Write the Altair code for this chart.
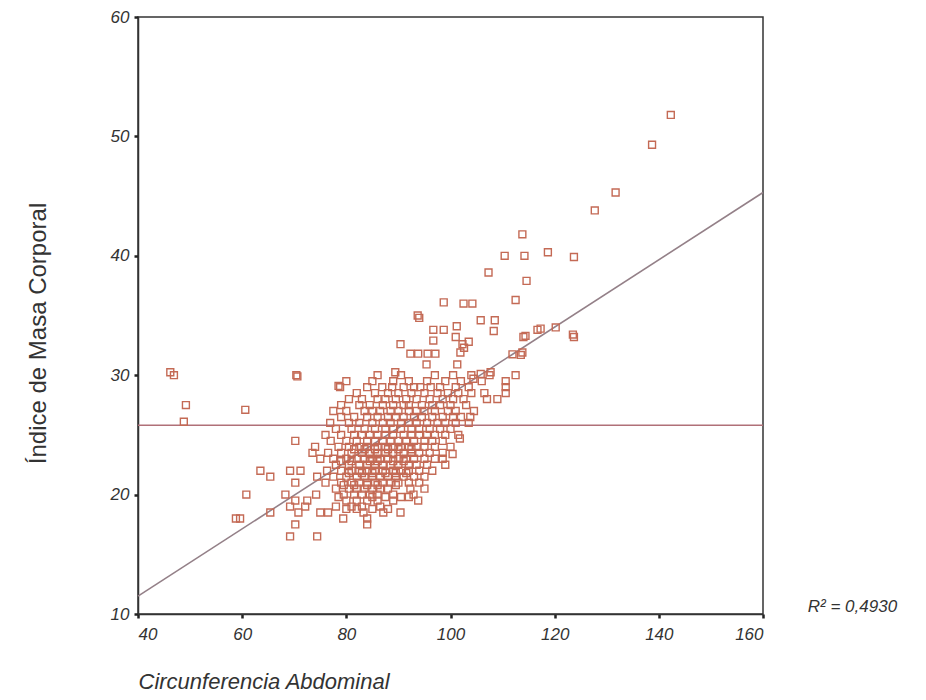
import altair as alt
import pandas as pd

# Outlying / sparse points: [Circunferencia, IMC]
sparse_points = [
    [142.3, 51.8], [138.7, 49.3], [131.7, 45.3], [127.7, 43.8], [123.7, 39.9],
    [118.7, 40.3], [114.2, 40.0], [110.4, 40.0], [113.8, 41.8], [107.3, 38.6],
    [114.6, 37.9], [112.5, 36.3], [98.7, 36.1], [102.5, 36.0], [104.2, 36.0],
    [108.5, 34.6], [120.2, 34.0], [117.3, 33.9], [123.7, 33.2], [123.5, 33.4],
    [114.0, 33.2], [93.7, 35.0], [94.0, 34.8], [105.8, 34.6], [96.7, 33.8],
    [96.7, 32.9], [90.4, 32.6], [101.2, 34.1], [98.7, 33.8], [108.3, 33.7],
    [102.3, 32.6], [102.6, 32.3], [101.0, 33.2], [103.5, 32.8], [101.9, 31.9],
    [101.3, 30.9], [111.9, 31.75], [113.8, 31.9], [114.4, 33.3], [116.7, 33.8],
    [112.5, 30.0], [113.5, 31.7], [92.3, 31.8], [93.8, 31.8], [95.6, 31.8],
    [97.1, 31.8], [95.4, 30.9], [89.4, 30.25], [46.2, 30.25], [46.9, 30.0],
    [49.2, 27.5], [48.8, 26.1], [60.6, 27.1], [70.4, 30.0], [70.6, 29.9],
    [78.5, 29.1], [101.8, 24.7], [100.4, 23.4], [103.8, 26.5], [107.7, 30.25],
    [105.8, 30.1], [104.4, 29.7], [98.5, 23.0],
]

# Dense cloud, read row by row (IMC level -> Circunferencia values)
row_300 = [86, 90.5, 97, 100.5, 104, 107.5]
row_295 = [80, 85, 89, 92, 95.5, 99, 102, 106, 110.6]
row_290 = [78.8, 84, 86.9, 88.8, 91, 93, 94.2, 96.2, 98, 101, 103.5, 110.6]
row_285 = [82, 85.5, 88, 90, 92.5, 95, 97.5, 99.5, 101.5, 104, 106.5, 110.6]
row_280 = [80.5, 83, 86, 87.5, 89.5, 91.5, 93.5, 96, 98.5, 100.5, 102.5, 107, 109]
row_275 = [79, 82.5, 84.5, 87, 89, 91, 92, 94.5, 96.5, 98, 100, 103]
row_270 = [77.5, 80, 83.5, 85, 86.5, 88.5, 90, 92, 93.5, 95, 97, 99.5, 101, 104.5]
row_265 = [79, 81.5, 84, 86, 88, 89.5, 91, 93, 94.5, 96.5, 98.5, 100.5, 102]
row_260 = [76.9, 80.5, 82.5, 85, 87, 88.5, 90.5, 92, 93.5, 95.5, 97.5, 99, 101, 103.5]
row_255 = [78, 81, 83.5, 85.5, 87.5, 89, 90.5, 92.5, 94, 96, 98, 100]
row_250 = [76, 79, 81.5, 83, 84.5, 86, 87.5, 89, 91, 92.5, 94, 95.5, 97, 99, 101.5]
row_245 = [70.2, 77, 80, 82, 84, 85.5, 87, 88.5, 90, 91.5, 93, 95, 96.5, 98.5]
row_240 = [74, 78.5, 80.5, 82.5, 84, 86, 87.5, 89, 90.5, 92, 93.5, 95, 97, 100]
row_238 = [81.5, 83.5, 85.5, 88, 90, 92.5]
row_235 = [73.5, 76.5, 79, 81, 83, 84.5, 86, 87.5, 89, 91, 92.5, 94, 96, 98.5]
row_230 = [75, 77.5, 80, 82, 83.5, 85, 86.5, 88, 90, 91.5, 93, 95, 97]
row_228 = [79, 81, 84.5, 86, 89, 91]
row_225 = [78, 80.5, 82.5, 84, 85.5, 87, 88.5, 90, 92, 93.5, 95.5, 99]
row_220 = [63.5, 69.2, 71.2, 76.3, 79, 81, 82.5, 84, 85.5, 87, 89, 90.5, 92, 94, 96.5]
row_218 = [80.5, 83, 85, 87.5, 89.5, 91.5]
row_215 = [65.4, 74.4, 77.5, 80, 82, 83.5, 85, 86.5, 88, 89.5, 91, 93, 95]
row_210 = [70.2, 76, 79, 81, 82.5, 84, 85.5, 87, 88.5, 90, 92, 94]
row_208 = [79.5, 81.5, 84, 86, 89.5]
row_205 = [78, 80.5, 82, 83.5, 85, 86.5, 88, 92.3, 95]
row_200 = [60.8, 68.3, 74.2, 79.5, 81.5, 83, 84.5, 86, 89, 92.9]
row_198 = [78.5, 85, 87.5, 90.5, 92]
row_195 = [70.2, 72.5, 80, 82, 84, 86, 89, 93.8]
row_190 = [69.2, 72.1, 78, 81, 83, 86.5]
row_188 = [80, 82, 85, 88]
row_185 = [65.4, 70.8, 75, 76.5, 83.3, 87.1, 90.4]
row_180 = [59.6, 58.8, 79.4, 84]
row_175 = [70.2, 84]
row_165 = [69.2, 74.4]

rows = [
    (30.0, row_300), (29.5, row_295), (29.0, row_290), (28.5, row_285),
    (28.0, row_280), (27.5, row_275), (27.0, row_270), (26.5, row_265),
    (26.0, row_260), (25.5, row_255), (25.0, row_250), (24.5, row_245),
    (24.0, row_240), (23.8, row_238), (23.5, row_235), (23.0, row_230),
    (22.8, row_228), (22.5, row_225), (22.0, row_220), (21.8, row_218),
    (21.5, row_215), (21.0, row_210), (20.8, row_208), (20.5, row_205),
    (20.0, row_200), (19.8, row_198), (19.5, row_195), (19.0, row_190),
    (18.8, row_188), (18.5, row_185), (18.0, row_180), (17.5, row_175),
    (16.5, row_165),
]

# Reference lines
mean_line_x = [40, 160]
mean_line_y = [25.8, 25.8]
fit_line_x = [40, 160]
fit_line_y = [11.5, 45.3]

# Annotation
r2_label = ["R² = 0,4930"]
r2_x = [168.6]
r2_y = [10.6]

x_ticks = [40, 60, 80, 100, 120, 140, 160]
y_ticks = [10, 20, 30, 40, 50, 60]

pts = [{"ca": p[0], "imc": p[1]} for p in sparse_points]
for lvl, xs in rows:
    pts += [{"ca": v, "imc": lvl} for v in xs]
df = pd.DataFrame(pts)

mean_df = pd.DataFrame({"ca": mean_line_x, "imc": mean_line_y})
fit_df = pd.DataFrame({"ca": fit_line_x, "imc": fit_line_y})
txt_df = pd.DataFrame({"ca": r2_x, "imc": r2_y, "t": r2_label})

FONT = "Liberation Sans"

xscale = alt.Scale(domain=[40, 160], nice=False, zero=False)
yscale = alt.Scale(domain=[10, 60], nice=False, zero=False)

xenc = alt.X(
    "ca:Q", scale=xscale,
    axis=alt.Axis(
        values=x_ticks, title="Circunferencia Abdominal", grid=False,
        labelFont=FONT, labelFontSize=17, labelFontStyle="italic", labelColor="#333",
        labelPadding=8, tickSize=4, tickWidth=2.5, tickColor="#222",
        domainColor="#333", domainWidth=1.5,
        titleFont=FONT, titleFontSize=22, titleFontStyle="italic",
        titleFontWeight="normal", titleColor="#333",
        titleAlign="left", titleAnchor="start", titleX=0, titleY=74,
        titleBaseline="alphabetic",
    ),
)
yenc = alt.Y(
    "imc:Q", scale=yscale,
    axis=alt.Axis(
        values=y_ticks, title="Índice de Masa Corporal", grid=False,
        labelFont=FONT, labelFontSize=17, labelFontStyle="italic", labelColor="#333",
        labelPadding=5, tickSize=4, tickWidth=2.5, tickColor="#222",
        domainColor="#333", domainWidth=1.5,
        titleFont=FONT, titleFontSize=24, titleFontWeight="normal", titleColor="#333",
        titleX=-100, titleY=316, titleBaseline="middle", titleAngle=-90,
    ),
)

points = alt.Chart(df).mark_point(
    shape="square", filled=False, size=48, strokeWidth=1.4,
    color="#c46a55", opacity=1,
).encode(x=xenc, y=yenc)

mean_rule = alt.Chart(mean_df).mark_line(color="#b07078", strokeWidth=1.5).encode(
    x=alt.X("ca:Q", scale=xscale), y=alt.Y("imc:Q", scale=yscale)
)
fit = alt.Chart(fit_df).mark_line(color="#948088", strokeWidth=1.6).encode(
    x=alt.X("ca:Q", scale=xscale), y=alt.Y("imc:Q", scale=yscale)
)
label = alt.Chart(txt_df).mark_text(
    font=FONT, fontSize=17, fontStyle="italic", color="#333",
    align="left", baseline="middle",
).encode(x=alt.X("ca:Q", scale=xscale), y=alt.Y("imc:Q", scale=yscale), text="t:N")

chart = alt.layer(mean_rule, fit, points, label).properties(
    width=625, height=597,
    autosize=alt.AutoSizeParams(type="none"),
    padding={"left": 130, "top": 9, "right": 155, "bottom": 78},
    background="white",
).configure_view(stroke="#333", strokeWidth=1.5)

chart.save("out.html", embed_options={"renderer": "svg", "actions": False})
